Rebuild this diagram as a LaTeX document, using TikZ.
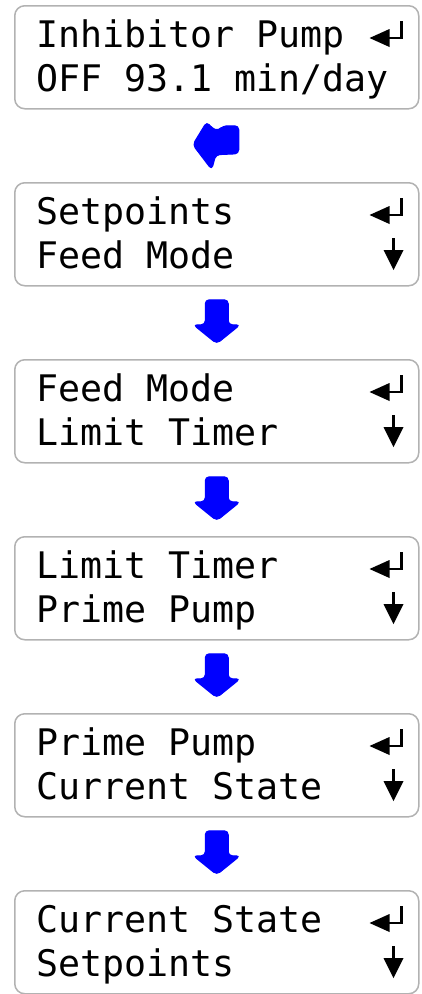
\documentclass[tikz,border=0pt]{standalone}
\usepackage{fontspec}
\setmonofont{DejaVu Sans Mono}
\usetikzlibrary{positioning,calc}

\definecolor{framegray}{RGB}{178,178,178}
\tikzset{
  screen/.style={draw=framegray, line width=1.5pt, rounded corners=10pt,
    minimum width=404pt, minimum height=103pt, inner sep=0pt},
  lcd/.style={font=\ttfamily\fontsize{36.6}{40}\selectfont, anchor=base west, inner sep=0pt},
  keymark/.style={line width=2.4pt},
  bluearrow/.style={fill=blue, draw=blue, line width=1pt, rounded corners=4pt, line join=round},
}

\begin{document}
\begin{tikzpicture}[x=1pt,y=-1pt]
\useasboundingbox (0,0) rectangle (422,994);

% menu screens
\foreach \n/\t/\la/\lb/\dn in {1/5/{Inhibitor Pump}/{OFF 93.1 min/day}/0,
    2/182/{Setpoints}/{Feed Mode}/1,
    3/359/{Feed Mode}/{Limit Timer}/1,
    4/536/{Limit Timer}/{Prime Pump}/1,
    5/713/{Prime Pump}/{Current State}/1,
    6/890/{Current State}/{Setpoints}/1} {
  \node[screen, anchor=north west] (s\n) at (14,\t) {};
  \node[lcd] (t\n) at ($(s\n.north west)+(22,42)$) {\la};
  \node[lcd] (b\n) at ($(s\n.north west)+(22,86)$) {\lb};
  % enter key
  \draw[keymark] ($(s\n.north east)+(-18,16)$) |- ($(s\n.north east)+(-40,33)$);
  \fill ($(s\n.north east)+(-50,33)$) -- ++(20,-9) -- ++(0,18) -- cycle;
  % down key
  \ifnum\dn=1
    \draw[keymark] ($(s\n.north east)+(-26,56)$) -- ++(0,14);
    \fill ($(s\n.north east)+(-36,68)$) -- ++(20,0) -- ++(-10,20) -- cycle;
  \fi
}

% back arrow from first screen
\coordinate (m1) at ($(s1.south)!.5!(s2.north)$);
\begin{scope}[shift={(m1)}]
  \filldraw[bluearrow] (-24,-1) -- (-10,-24) -- (-4,-17) -- (2,-15) -- (6,-20)
    -- (22,-20) -- (22,8) -- (-1,9) -- (-5,24) -- cycle;
\end{scope}

% down arrows between screens
\foreach \i [evaluate=\i as \j using int(\i+1)] in {2,...,5} {
  \coordinate (m\i) at ($(s\i.south)!.5!(s\j.north)$);
  \begin{scope}[shift={(m\i)}]
    \filldraw[bluearrow] (-11.5,-23) -- (11.5,-23) -- (11.5,2) -- (23.5,2)
      -- (0,21) -- (-23.5,2) -- (-11.5,2) -- cycle;
  \end{scope}
}
\end{tikzpicture}
\end{document}
